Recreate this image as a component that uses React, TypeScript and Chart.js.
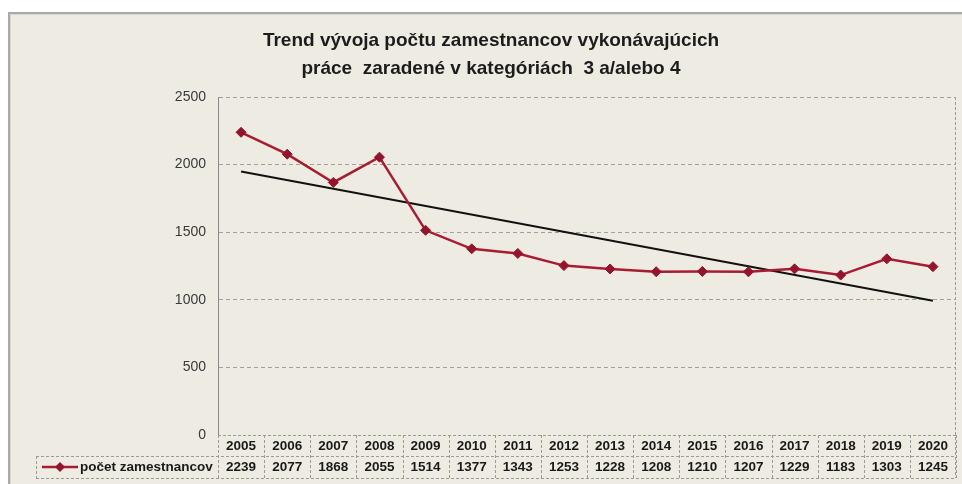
import { useEffect, useRef } from 'react';
import { Chart, registerables } from 'chart.js';

Chart.register(...registerables);

const titleLines = [
  'Trend vývoja počtu zamestnancov vykonávajúcich',
  'práce  zaradené v kategóriách  3 a/alebo 4',
];
const years = ['2005', '2006', '2007', '2008', '2009', '2010', '2011', '2012', '2013', '2014', '2015', '2016', '2017', '2018', '2019', '2020'];
const employees = [2239, 2077, 1868, 2055, 1514, 1377, 1343, 1253, 1228, 1208, 1210, 1207, 1229, 1183, 1303, 1245];
const seriesLabel = 'počet zamestnancov';
// Excel linear trendline endpoints
const trendStart = 1949;
const trendEnd = 993;
const yMin = 0;
const yMax = 2500;
const yStep = 500;

const FONT = '"Liberation Sans", Arial, sans-serif';
const RED = '#a81c32';
const RED_DARK = '#93142c';

const framePlugin = {
  id: 'frame',
  beforeDraw(chart: any) {
    const { ctx, width, height } = chart;
    ctx.save();
    ctx.fillStyle = '#ffffff';
    ctx.fillRect(0, 0, width, height);
    ctx.fillStyle = '#eeebe2';
    ctx.fillRect(9, 13, width - 9, height - 13);
    ctx.strokeStyle = '#a9a9a9';
    ctx.lineWidth = 2;
    ctx.beginPath();
    ctx.moveTo(9, height);
    ctx.lineTo(9, 13);
    ctx.lineTo(width, 13);
    ctx.stroke();
    ctx.strokeStyle = '#d8d8d0';
    ctx.lineWidth = 1;
    ctx.beginPath();
    ctx.moveTo(10.5, height);
    ctx.lineTo(10.5, 14.5);
    ctx.lineTo(width, 14.5);
    ctx.stroke();
    // title
    ctx.fillStyle = '#1c1c1c';
    ctx.font = `bold 19px ${FONT}`;
    ctx.textAlign = 'center';
    ctx.textBaseline = 'middle';
    titleLines.forEach((t, i) => ctx.fillText(t, 491, 41 + i * 28));
    ctx.restore();
  },
};

const tablePlugin = {
  id: 'dataTable',
  afterDraw(chart: any) {
    const { ctx, chartArea } = chart;
    const xs = chart.scales.x;
    const step = xs.getPixelForValue(1) - xs.getPixelForValue(0);
    const left = chartArea.left;
    const right = chartArea.right;
    const top = chartArea.bottom;
    const mid = top + 21;
    const bot = top + 43;
    const legendLeft = 36;
    const line = (x1: number, y1: number, x2: number, y2: number) => {
      ctx.beginPath();
      ctx.moveTo(x1, y1);
      ctx.lineTo(x2, y2);
      ctx.stroke();
    };
    ctx.save();
    ctx.strokeStyle = '#9a9a9a';
    ctx.lineWidth = 1;
    ctx.setLineDash([3, 2]);
    line(left, top + 0.5, right, top + 0.5);
    line(legendLeft, mid + 0.5, right, mid + 0.5);
    line(legendLeft, bot + 0.5, right, bot + 0.5);
    for (let i = 0; i <= years.length; i++) {
      const x = Math.round(left + i * step) + 0.5;
      line(x, top, x, bot);
    }
    line(legendLeft + 0.5, mid, legendLeft + 0.5, bot);
    line(Math.round(right) - 0.5, chartArea.top, Math.round(right) - 0.5, bot);
    ctx.setLineDash([]);

    ctx.fillStyle = '#1a1a1a';
    ctx.font = `bold 13.5px ${FONT}`;
    ctx.textAlign = 'center';
    ctx.textBaseline = 'middle';
    years.forEach((y, i) => {
      const x = xs.getPixelForValue(i);
      ctx.fillText(y, x, top + 11);
      ctx.fillText(String(employees[i]), x, mid + 11);
    });

    // legend key
    const ly = mid + 11;
    ctx.strokeStyle = RED;
    ctx.lineWidth = 2.5;
    line(legendLeft + 6, ly, legendLeft + 42, ly);
    ctx.fillStyle = RED_DARK;
    ctx.beginPath();
    ctx.moveTo(legendLeft + 24, ly - 5);
    ctx.lineTo(legendLeft + 29, ly);
    ctx.lineTo(legendLeft + 24, ly + 5);
    ctx.lineTo(legendLeft + 19, ly);
    ctx.closePath();
    ctx.fill();
    ctx.fillStyle = '#1a1a1a';
    ctx.textAlign = 'left';
    ctx.fillText(seriesLabel, legendLeft + 44, ly);
    ctx.restore();
  },
};

export default function App() {
  const ref = useRef<HTMLCanvasElement | null>(null);
  useEffect(() => {
    if (!ref.current) return;
    const trend = years.map((_, i) => (i === 0 ? trendStart : i === years.length - 1 ? trendEnd : null));
    const chart = new Chart(ref.current, {
      type: 'line',
      data: {
        labels: years,
        datasets: [
          {
            label: 'trend',
            data: trend,
            borderColor: '#111111',
            borderWidth: 2,
            pointRadius: 0,
            spanGaps: true,
            order: 2,
          },
          {
            label: seriesLabel,
            data: employees,
            borderColor: RED,
            backgroundColor: RED_DARK,
            borderWidth: 2.5,
            pointStyle: 'rectRot',
            pointRadius: 5,
            pointBorderWidth: 1,
            pointBorderColor: RED_DARK,
            pointBackgroundColor: RED_DARK,
            tension: 0,
            order: 1,
          },
        ],
      },
      options: {
        responsive: false,
        animation: false,
        devicePixelRatio: 1,
        layout: { padding: { left: 0, top: 97, right: 5, bottom: 49 } },
        plugins: {
          legend: { display: false },
          tooltip: { enabled: false },
          title: { display: false },
        },
        scales: {
          x: {
            display: false,
            offset: true,
          },
          y: {
            min: yMin,
            max: yMax,
            afterFit(scale: any) {
              scale.width = 218;
            },
            ticks: {
              stepSize: yStep,
              padding: 12,
              color: '#3a3a3a',
              font: { family: FONT, size: 14 },
              callback: (v: any) => String(v),
            },
            grid: {
              color: (c: any) => (c.tick && c.tick.value === 0 ? 'rgba(0,0,0,0)' : '#a0a0a0'),
              drawTicks: false,
              lineWidth: 1,
            },
            border: { display: true, color: '#8a8a8a', width: 1, dash: [4, 3] },
          },
        },
      },
      plugins: [framePlugin, tablePlugin],
    });
    return () => chart.destroy();
  }, []);
  return (
    <div style={{ position: 'fixed', left: 0, top: 0, width: 962, height: 484 }}>
      <canvas ref={ref} width={962} height={484} style={{ display: 'block' }} />
    </div>
  );
}
